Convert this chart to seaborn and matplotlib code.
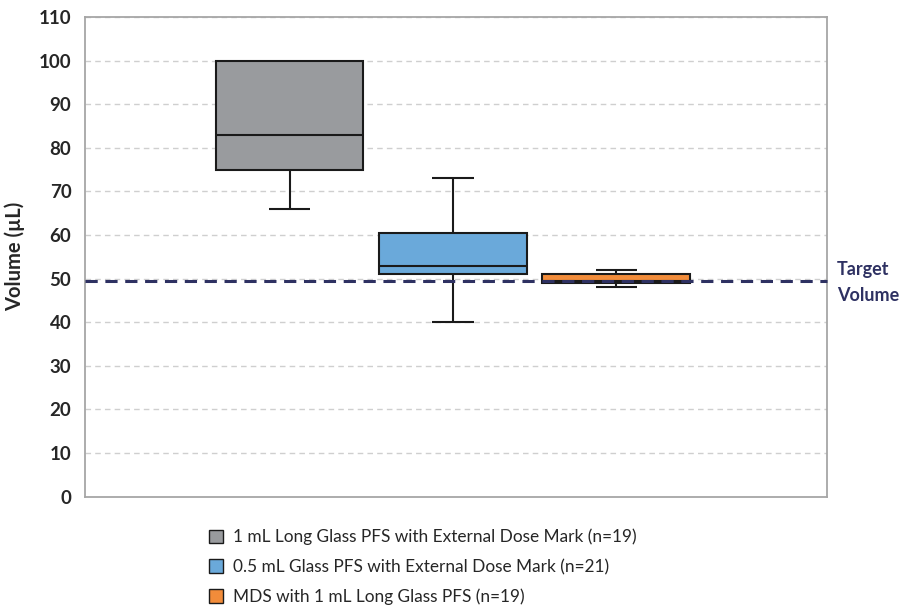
import numpy as np
import pandas as pd
import matplotlib
matplotlib.use("Agg")
import matplotlib.pyplot as plt
from matplotlib.lines import Line2D
from matplotlib.patches import Patch
import seaborn as sns

# box statistics (uL)
groups = ["1 mL Long Glass PFS with External Dose Mark (n=19)",
          "0.5 mL Glass PFS with External Dose Mark (n=21)",
          "MDS with 1 mL Long Glass PFS (n=19)"]
mins = [66, 40, 48]
q1s = [75, 51, 49]
medians = [83, 53, 49.5]
q3s = [100, 60.5, 51]
maxs = [100, 73, 52]
colors = ["#999B9E", "#6AA9DA", "#F28C3A"]
target = 49.5
yticks = list(range(0, 111, 10))

# five points per group reproduce min / quartiles / max exactly
rows = []
for g, a, b, c, d, e in zip(groups, mins, q1s, medians, q3s, maxs):
    for v in (a, b, c, d, e):
        rows.append({"group": g, "value": v})
df = pd.DataFrame(rows)

sns.set_style("white")
plt.rcParams["font.family"] = ["Lato", "DejaVu Sans"]

fig = plt.figure(figsize=(9.17, 6.05), dpi=100)
ax = fig.add_axes([0.093, 0.179, 0.809, 0.793])

box_w = 0.905
line_col = "#1A1A1A"
sns.boxplot(data=df, x="group", y="value", hue="group", order=groups,
            palette=colors, saturation=1, width=box_w, whis=(0, 100),
            showfliers=False, linecolor=line_col, linewidth=1.5,
            legend=False, ax=ax)

# drop seaborn's wide caps (short horizontal lines at min / max)
ends = set(mins) | set(maxs)
for art in list(ax.get_children()):
    if isinstance(art, Line2D):
        xs = np.asarray(art.get_xdata(), dtype=float)
        ys = np.asarray(art.get_ydata(), dtype=float)
        if (len(ys) == 2 and np.isclose(ys[0], ys[1])
                and not np.isclose(xs[0], xs[1])
                and any(np.isclose(ys[0], e) for e in ends)):
            art.remove()

# narrower caps as in the reference
pos = np.arange(len(groups))
cap_half = 0.14 * box_w
for i, (lo, hi) in enumerate(zip(mins, maxs)):
    if hi > q3s[i]:
        ax.hlines(hi, pos[i] - cap_half, pos[i] + cap_half, color=line_col, lw=1.5, zorder=3)
    if lo < q1s[i]:
        ax.hlines(lo, pos[i] - cap_half, pos[i] + cap_half, color=line_col, lw=1.5, zorder=3)

for y in yticks[1:]:
    ax.axhline(y, color="#CFCFCF", lw=1, ls=(0, (4, 3)), zorder=0)

ax.axhline(target, color="#2E3162", lw=2.2, ls=(0, (4, 2.5)), zorder=5,
           clip_on=False)
ax.text(1.013, (target + 2.6) / 110, "Target", transform=ax.transAxes,
        fontsize=13, fontweight="bold", color="#2E3162", va="center")
ax.text(1.013, (target - 3.3) / 110, "Volume", transform=ax.transAxes,
        fontsize=13, fontweight="bold", color="#2E3162", va="center")

ax.set_xlim(-1.25, 3.29)
ax.set_ylim(0, 110)
ax.set_yticks(yticks)
ax.set_yticklabels([str(t) for t in yticks], fontsize=13.5, fontweight="bold")
ax.set_xticks([])
ax.set_xlabel("")
ax.set_ylabel("Volume (µL)", fontsize=14.5, fontweight="bold", labelpad=10)
ax.tick_params(axis="y", length=0, pad=10)
for s in ax.spines.values():
    s.set_color("#A6A6A6")
    s.set_linewidth(1.3)

handles = [Patch(facecolor=c, edgecolor=line_col, lw=1) for c in colors]
fig.legend(handles, groups, loc="upper left", bbox_to_anchor=(0.218, 0.14),
           frameon=False, fontsize=12.4, handlelength=0.85, handleheight=0.85,
           handletextpad=0.6, labelspacing=0.78, borderpad=0)

fig.savefig("out.png", dpi=100)
